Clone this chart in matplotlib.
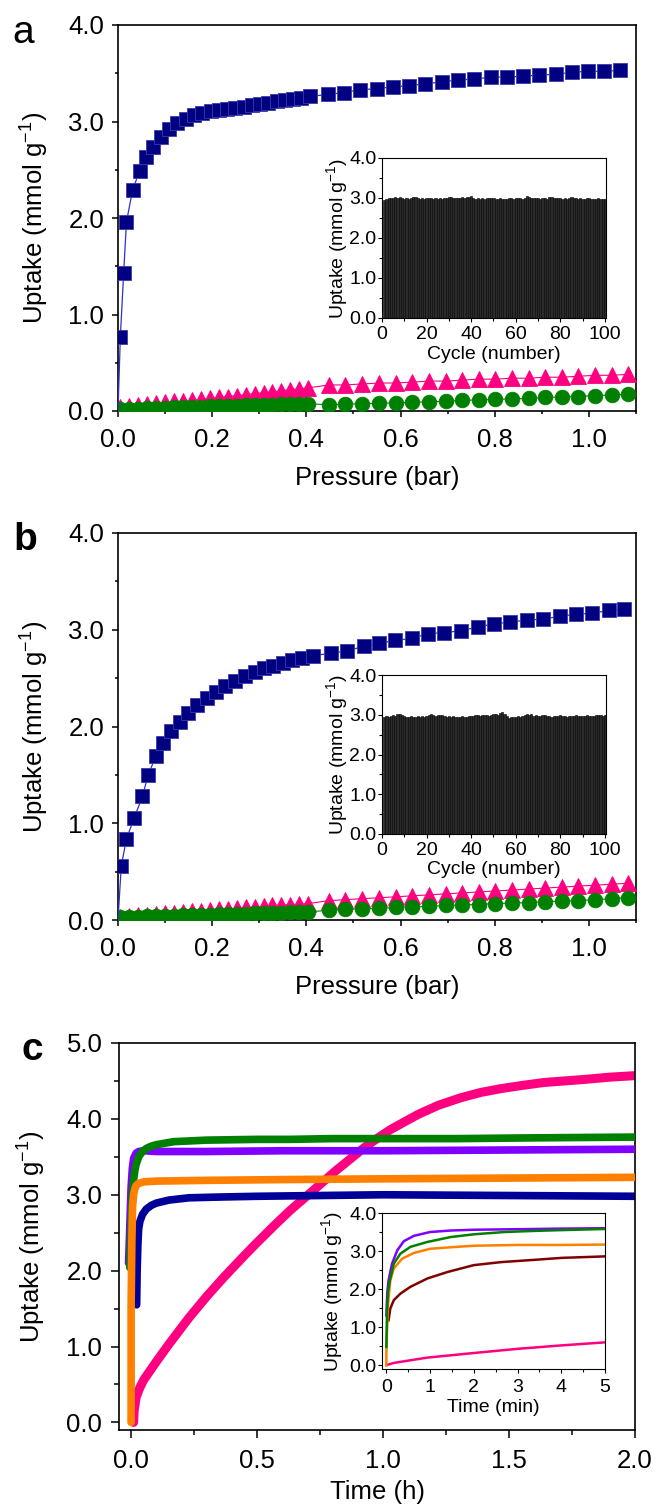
import matplotlib
matplotlib.use("Agg")
import matplotlib.pyplot as plt
from matplotlib.ticker import MultipleLocator, FormatStrFormatter

plt.rcParams["font.family"] = ["Liberation Sans", "DejaVu Sans"]
plt.rcParams["mathtext.default"] = "regular"

# ---------------- data: panel a (isotherms, bar) ----------------
a_p_co2 = [0.005, 0.012, 0.018, 0.031, 0.046, 0.060, 0.075, 0.091, 0.108,
           0.126, 0.144, 0.162, 0.179, 0.197, 0.214, 0.232, 0.249, 0.267, 0.284,
           0.302, 0.319, 0.337, 0.354, 0.372, 0.389, 0.407, 0.446, 0.479, 0.514,
           0.550, 0.583, 0.617, 0.652, 0.687, 0.723, 0.757, 0.792, 0.826, 0.861,
           0.894, 0.930, 0.964, 0.998, 1.032, 1.067]
a_u_co2 = [0.77, 1.43, 1.96, 2.29, 2.49, 2.63, 2.74, 2.84, 2.92,
           2.98, 3.03, 3.07, 3.09, 3.11, 3.12, 3.13, 3.14, 3.15, 3.17,
           3.18, 3.19, 3.21, 3.22, 3.23, 3.245, 3.26, 3.28, 3.30, 3.33,
           3.34, 3.36, 3.37, 3.39, 3.41, 3.43, 3.44, 3.46, 3.46, 3.47,
           3.48, 3.49, 3.51, 3.52, 3.52, 3.53]

low_p = [0.005, 0.024, 0.043, 0.062, 0.081, 0.100, 0.119, 0.138, 0.157, 0.176,
         0.195, 0.214, 0.233, 0.252, 0.271, 0.290, 0.309, 0.328, 0.347, 0.366,
         0.385, 0.404, 0.448, 0.482, 0.518, 0.555, 0.590, 0.625, 0.661, 0.696,
         0.731, 0.766, 0.801, 0.837, 0.872, 0.907, 0.942, 0.977, 1.013, 1.048, 1.083]
a_u_ch4 = [0.04, 0.05, 0.06, 0.07, 0.08, 0.09, 0.10, 0.10, 0.11, 0.12,
           0.13, 0.14, 0.15, 0.16, 0.17, 0.18, 0.19, 0.20, 0.21, 0.22,
           0.23, 0.24, 0.27, 0.27, 0.28, 0.29, 0.29, 0.30, 0.31, 0.31,
           0.32, 0.33, 0.33, 0.34, 0.34, 0.35, 0.35, 0.36, 0.37, 0.37, 0.38]
a_u_n2 = [0.02, 0.02, 0.025, 0.03, 0.03, 0.035, 0.04, 0.04, 0.045, 0.045,
          0.05, 0.05, 0.055, 0.055, 0.06, 0.06, 0.065, 0.065, 0.07, 0.07,
          0.075, 0.075, 0.065, 0.07, 0.075, 0.08, 0.085, 0.09, 0.095, 0.10,
          0.11, 0.115, 0.12, 0.125, 0.13, 0.14, 0.145, 0.15, 0.16, 0.165, 0.175]

a_cycles = [2.96, 2.98, 2.99, 3.00, 2.99, 3.02, 3.01, 3.03, 2.99, 2.98,
            2.99, 2.98, 2.99, 3.02, 3.03, 3.01, 2.98, 2.99, 2.97, 2.99,
            3.00, 3.01, 2.98, 2.99, 2.97, 3.00, 2.98, 2.99, 3.01, 3.02,
            3.03, 3.01, 3.00, 2.99, 3.01, 3.02, 2.99, 3.03, 3.02, 3.04,
            2.99, 2.97, 3.00, 2.98, 2.99, 2.98, 3.00, 3.01, 3.00, 2.99,
            2.98, 2.98, 2.99, 2.97, 2.98, 2.98, 2.99, 3.00, 2.98, 2.99,
            3.00, 2.99, 2.98, 3.01, 3.04, 3.02, 3.01, 3.00, 3.01, 2.99,
            2.98, 2.99, 3.01, 2.98, 3.02, 3.03, 3.00, 3.01, 2.99, 3.00,
            2.98, 2.99, 2.98, 3.00, 3.02, 3.01, 2.99, 2.98, 2.99, 2.98,
            2.97, 2.99, 3.00, 2.98, 2.97, 2.98, 2.99, 2.98, 2.97, 2.98]

# ---------------- data: panel b ----------------
b_p_co2 = [0.007, 0.018, 0.034, 0.052, 0.064, 0.081, 0.095, 0.113, 0.131,
           0.149, 0.168, 0.188, 0.208, 0.228, 0.249, 0.270, 0.290, 0.310, 0.330,
           0.350, 0.370, 0.390, 0.414, 0.453, 0.486, 0.522, 0.555, 0.589, 0.624,
           0.658, 0.692, 0.729, 0.765, 0.799, 0.833, 0.868, 0.903, 0.939, 0.973,
           1.007, 1.042, 1.075]
b_u_co2 = [0.56, 0.84, 1.05, 1.28, 1.50, 1.70, 1.83, 1.95, 2.05,
           2.14, 2.22, 2.29, 2.36, 2.42, 2.47, 2.52, 2.56, 2.60, 2.63,
           2.66, 2.69, 2.71, 2.73, 2.76, 2.78, 2.83, 2.86, 2.89, 2.91,
           2.96, 2.97, 2.99, 3.03, 3.06, 3.08, 3.10, 3.11, 3.14, 3.16,
           3.17, 3.20, 3.21]
b_u_ch4 = [0.03, 0.04, 0.05, 0.055, 0.06, 0.07, 0.075, 0.08, 0.09, 0.095,
           0.10, 0.11, 0.115, 0.12, 0.13, 0.135, 0.14, 0.15, 0.155, 0.16,
           0.165, 0.17, 0.20, 0.21, 0.22, 0.23, 0.24, 0.25, 0.26, 0.27,
           0.28, 0.29, 0.30, 0.31, 0.32, 0.33, 0.34, 0.35, 0.36, 0.37, 0.38]
b_u_n2 = [0.03, 0.03, 0.035, 0.04, 0.04, 0.045, 0.045, 0.05, 0.05, 0.055,
          0.055, 0.06, 0.06, 0.065, 0.065, 0.07, 0.07, 0.075, 0.075, 0.08,
          0.08, 0.085, 0.10, 0.11, 0.115, 0.12, 0.13, 0.135, 0.14, 0.15,
          0.155, 0.16, 0.17, 0.175, 0.18, 0.19, 0.195, 0.20, 0.21, 0.22, 0.23]

b_cycles = [2.95, 2.96, 2.95, 2.98, 3.00, 2.97, 3.01, 3.03, 3.00, 2.96,
            2.95, 2.95, 2.96, 2.95, 2.94, 2.96, 2.95, 2.97, 2.95, 2.96,
            2.99, 3.01, 3.00, 2.98, 2.99, 3.00, 2.99, 2.98, 2.95, 2.96,
            2.95, 2.96, 2.95, 2.94, 2.95, 2.96, 2.95, 2.94, 2.96, 2.97,
            2.98, 3.00, 2.99, 2.98, 2.99, 3.00, 2.99, 2.98, 3.00, 3.02,
            3.01, 2.99, 3.04, 3.07, 3.01, 2.96, 2.93, 2.94, 2.95, 2.95,
            2.96, 2.95, 2.97, 2.99, 3.01, 3.00, 3.01, 2.98, 2.99, 2.97,
            2.98, 3.00, 2.99, 2.98, 2.96, 2.95, 2.96, 2.97, 2.98, 2.99,
            2.97, 2.96, 2.95, 2.96, 2.97, 2.98, 2.99, 2.97, 2.96, 2.97,
            2.98, 2.99, 2.98, 2.97, 2.98, 2.99, 3.00, 2.99, 2.98, 2.99]

# ---------------- data: panel c (kinetics, hours) ----------------
c_t_pink = [0.01, 0.012, 0.02, 0.035, 0.05, 0.075, 0.10, 0.15, 0.23, 0.30, 0.37,
            0.45, 0.50, 0.57, 0.63, 0.71, 0.81, 0.925, 0.98, 1.03, 1.09, 1.14,
            1.22, 1.31, 1.39, 1.47, 1.55, 1.64, 1.72, 1.80, 1.90, 2.00]
c_u_pink = [0.0, 0.15, 0.33, 0.46, 0.56, 0.68, 0.80, 1.03, 1.38, 1.66, 1.92,
            2.20, 2.37, 2.60, 2.79, 3.02, 3.31, 3.62, 3.75, 3.86, 3.97, 4.06,
            4.18, 4.28, 4.35, 4.40, 4.44, 4.48, 4.50, 4.52, 4.55, 4.57]
c_t_blue = [0.022, 0.024, 0.027, 0.03, 0.035, 0.045, 0.06, 0.08, 0.10, 0.15,
            0.23, 0.35, 0.50, 0.75, 1.00, 1.50, 2.00]
c_u_blue = [1.55, 2.00, 2.35, 2.55, 2.65, 2.74, 2.81, 2.86, 2.89, 2.93,
            2.96, 2.97, 2.98, 2.99, 3.00, 2.99, 2.98]
c_t_purple = [-0.01, -0.005, 0.0, 0.005, 0.01, 0.02, 0.03, 0.05, 0.10, 0.30,
              0.60, 1.00, 1.50, 2.00]
c_u_purple = [2.10, 2.60, 3.10, 3.35, 3.48, 3.55, 3.57, 3.58, 3.57, 3.57,
              3.58, 3.58, 3.59, 3.60]
c_t_green = [-0.005, 0.0, 0.005, 0.01, 0.015, 0.02, 0.03, 0.045, 0.06, 0.08,
             0.10, 0.17, 0.30, 0.50, 0.63, 0.80, 1.00, 1.30, 1.60, 2.00]
c_u_green = [2.04, 2.60, 3.00, 3.20, 3.32, 3.40, 3.50, 3.57, 3.61, 3.64,
             3.66, 3.70, 3.72, 3.73, 3.73, 3.74, 3.74, 3.74, 3.75, 3.76]
c_t_orange = [0.0, 0.0, 0.003, 0.006, 0.01, 0.015, 0.02, 0.03, 0.05, 0.10,
              0.30, 0.60, 1.00, 1.50, 2.00]
c_u_orange = [0.0, 1.50, 2.40, 2.85, 3.00, 3.08, 3.12, 3.15, 3.17, 3.18,
              3.19, 3.20, 3.21, 3.22, 3.23]

# inset c (minutes)
i_t_purple = [0.0, 0.02, 0.05, 0.13, 0.25, 0.40, 0.63, 1.00, 1.48, 2.00, 2.70, 3.40, 4.00, 5.00]
i_u_purple = [1.31, 1.90, 2.23, 2.67, 3.02, 3.26, 3.40, 3.50, 3.54, 3.56, 3.57, 3.58, 3.59, 3.60]
i_t_green = [0.0, 0.015, 0.04, 0.08, 0.17, 0.32, 0.55, 0.94, 1.48, 2.00, 2.70, 3.40, 4.00, 5.00]
i_u_green = [0.48, 1.44, 1.95, 2.23, 2.67, 2.93, 3.11, 3.24, 3.37, 3.44, 3.50, 3.53, 3.55, 3.58]
i_t_orange = [0.0, 0.0, 0.015, 0.04, 0.09, 0.17, 0.36, 0.63, 1.00, 1.48, 2.00, 3.00, 4.00, 5.00]
i_u_orange = [0.0, 0.30, 0.92, 1.62, 2.23, 2.54, 2.80, 2.95, 3.06, 3.10, 3.14, 3.16, 3.16, 3.17]
i_t_red = [0.05, 0.09, 0.17, 0.32, 0.55, 0.94, 1.40, 2.00, 2.63, 3.40, 4.00, 5.00]
i_u_red = [1.18, 1.49, 1.71, 1.88, 2.06, 2.28, 2.45, 2.63, 2.71, 2.77, 2.82, 2.86]
i_t_pink = [0.0, 0.17, 0.94, 2.00, 3.00, 4.00, 5.00]
i_u_pink = [0.0, 0.06, 0.20, 0.32, 0.43, 0.52, 0.60]

NAVY = "#000080"
PINK = "#ff0080"
GREEN = "#008000"
PURPLE = "#8000ff"
ORANGE = "#ff8000"
BLUE = "#000099"
DARKRED = "#800000"

YLABEL = "Uptake (mmol g$^{-1}$)"
W, H = 655, 1508


def add_axes_px(fig, left, right, top, bottom):
    return fig.add_axes([left / W, 1 - bottom / H, (right - left) / W, (bottom - top) / H])


def style_main(ax, xmaj, xmin, ymaj, ymin, ticklen=4):
    for s in ax.spines.values():
        s.set_linewidth(1.2)
    ax.xaxis.set_major_locator(MultipleLocator(xmaj))
    ax.xaxis.set_minor_locator(MultipleLocator(xmin))
    ax.yaxis.set_major_locator(MultipleLocator(ymaj))
    ax.yaxis.set_minor_locator(MultipleLocator(ymin))
    ax.tick_params(which="both", direction="out", top=False, right=False, width=1.1)
    ax.tick_params(which="major", length=ticklen, labelsize=18.5)
    ax.tick_params(which="minor", length=ticklen * 0.6)
    ax.tick_params(axis="x", which="major", pad=8)
    ax.tick_params(axis="y", which="major", pad=6)
    ax.yaxis.set_major_formatter(FormatStrFormatter("%.1f"))


def style_inset(ax, xpad=2.5):
    for s in ax.spines.values():
        s.set_linewidth(0.8)
    ax.tick_params(which="both", direction="out", top=False, right=False, width=0.8)
    ax.tick_params(which="major", length=3, labelsize=14)
    ax.tick_params(which="minor", length=2)
    ax.tick_params(axis="x", which="major", pad=xpad)
    ax.tick_params(axis="y", which="major", pad=1)
    ax.yaxis.set_major_locator(MultipleLocator(1.0))
    ax.yaxis.set_minor_locator(MultipleLocator(0.5))
    ax.yaxis.set_major_formatter(FormatStrFormatter("%.1f"))


def set_labels(ax, xlabel, xy, yx, size):
    ax.set_xlabel(xlabel, fontsize=size)
    ax.set_ylabel(YLABEL, fontsize=size)
    ax.xaxis.set_label_coords(0.5, xy)
    ax.xaxis.label.set_va("center")
    ax.yaxis.set_label_coords(yx, 0.5)
    ax.yaxis.label.set_va("center")


def isotherm_panel(ax, p_co2, u_co2, u_ch4, u_n2):
    ax.plot(low_p, u_n2, "-", color=GREEN, lw=0.8, zorder=2)
    ax.plot(low_p, u_ch4, "-", color=PINK, lw=0.8, zorder=3)
    ax.plot(low_p, u_ch4, "^", ls="none", color=PINK, ms=11.5, mec=PINK, mew=0.6, zorder=3)
    ax.plot(low_p, u_n2, "o", ls="none", color=GREEN, ms=10.5, mec=GREEN, mew=0.6, zorder=4)
    ax.plot([0.0] + p_co2, [0.0] + u_co2, "-", color="#3030cc", lw=0.9, zorder=5)
    ax.plot(p_co2, u_co2, "s", ls="none", color=NAVY, ms=10.5, mec="#3a3ab0", mew=0.6, zorder=6)
    ax.set_xlim(0, 1.1)
    ax.set_ylim(0, 4.0)
    style_main(ax, 0.2, 0.1, 1.0, 0.5)
    set_labels(ax, "Pressure (bar)", -0.174, -0.16, 18.5)


def cycle_inset(ax, values):
    cyc = list(range(1, len(values) + 1))
    ax.bar(cyc, values, width=1.0, color="#2b2b2b", edgecolor="black", linewidth=0.4)
    ax.set_xlim(0, 100.5)
    ax.set_ylim(0, 4.0)
    ax.xaxis.set_major_locator(MultipleLocator(20))
    ax.xaxis.set_minor_locator(MultipleLocator(10))
    style_inset(ax)
    set_labels(ax, "Cycle (number)", -0.226, -0.20, 14)


fig = plt.figure(figsize=(W / 100, H / 100), dpi=100)

# panel a
ax_a = add_axes_px(fig, 118, 636, 25, 411)
isotherm_panel(ax_a, a_p_co2, a_u_co2, a_u_ch4, a_u_n2)
in_a = add_axes_px(fig, 382, 606, 158, 318)
cycle_inset(in_a, a_cycles)

# panel b
ax_b = add_axes_px(fig, 118, 636, 533, 920)
isotherm_panel(ax_b, b_p_co2, b_u_co2, b_u_ch4, b_u_n2)
in_b = add_axes_px(fig, 382, 606, 675, 834)
cycle_inset(in_b, b_cycles)

# panel c
ax_c = add_axes_px(fig, 119, 635, 1043, 1430)
kw = dict(solid_capstyle="round", solid_joinstyle="round")
ax_c.plot(c_t_pink, c_u_pink, color=PINK, lw=6.5, zorder=1, **kw)
ax_c.plot(c_t_blue, c_u_blue, color=BLUE, lw=5.5, zorder=2, **kw)
ax_c.plot(c_t_purple, c_u_purple, color=PURPLE, lw=5.5, zorder=3, **kw)
ax_c.plot(c_t_green, c_u_green, color=GREEN, lw=5.5, zorder=4, **kw)
ax_c.plot(c_t_orange, c_u_orange, color=ORANGE, lw=5.5, zorder=5, **kw)
ax_c.set_xlim(-0.048, 2.0)
ax_c.set_ylim(-0.1, 5.0)
style_main(ax_c, 0.5, 0.25, 1.0, 0.5, ticklen=6)
set_labels(ax_c, "Time (h)", -0.160, -0.168, 18.5)

in_c = add_axes_px(fig, 382, 605, 1213, 1369)
in_c.plot(i_t_pink, i_u_pink, color=PINK, lw=1.8, zorder=1)
in_c.plot(i_t_red, i_u_red, color=DARKRED, lw=1.8, zorder=2)
in_c.plot(i_t_orange, i_u_orange, color=ORANGE, lw=1.8, zorder=3)
in_c.plot(i_t_purple, i_u_purple, color=PURPLE, lw=1.8, zorder=4)
in_c.plot(i_t_green, i_u_green, color=GREEN, lw=1.8, zorder=5)
in_c.set_xlim(-0.1, 5.0)
in_c.set_ylim(-0.1, 4.0)
in_c.xaxis.set_major_locator(MultipleLocator(1))
in_c.xaxis.set_minor_locator(MultipleLocator(0.5))
style_inset(in_c, xpad=4.5)
set_labels(in_c, "Time (min)", -0.245, -0.224, 14)

# panel letters
fig.text(23 / W, 1 - 33 / H, "a", fontsize=28, ha="center", va="center")
fig.text(25 / W, 1 - 540 / H, "b", fontsize=28, fontweight="bold", ha="center", va="center")
fig.text(32 / W, 1 - 1050 / H, "c", fontsize=28, fontweight="bold", ha="center", va="center")

fig.savefig("out.png", dpi=100)
